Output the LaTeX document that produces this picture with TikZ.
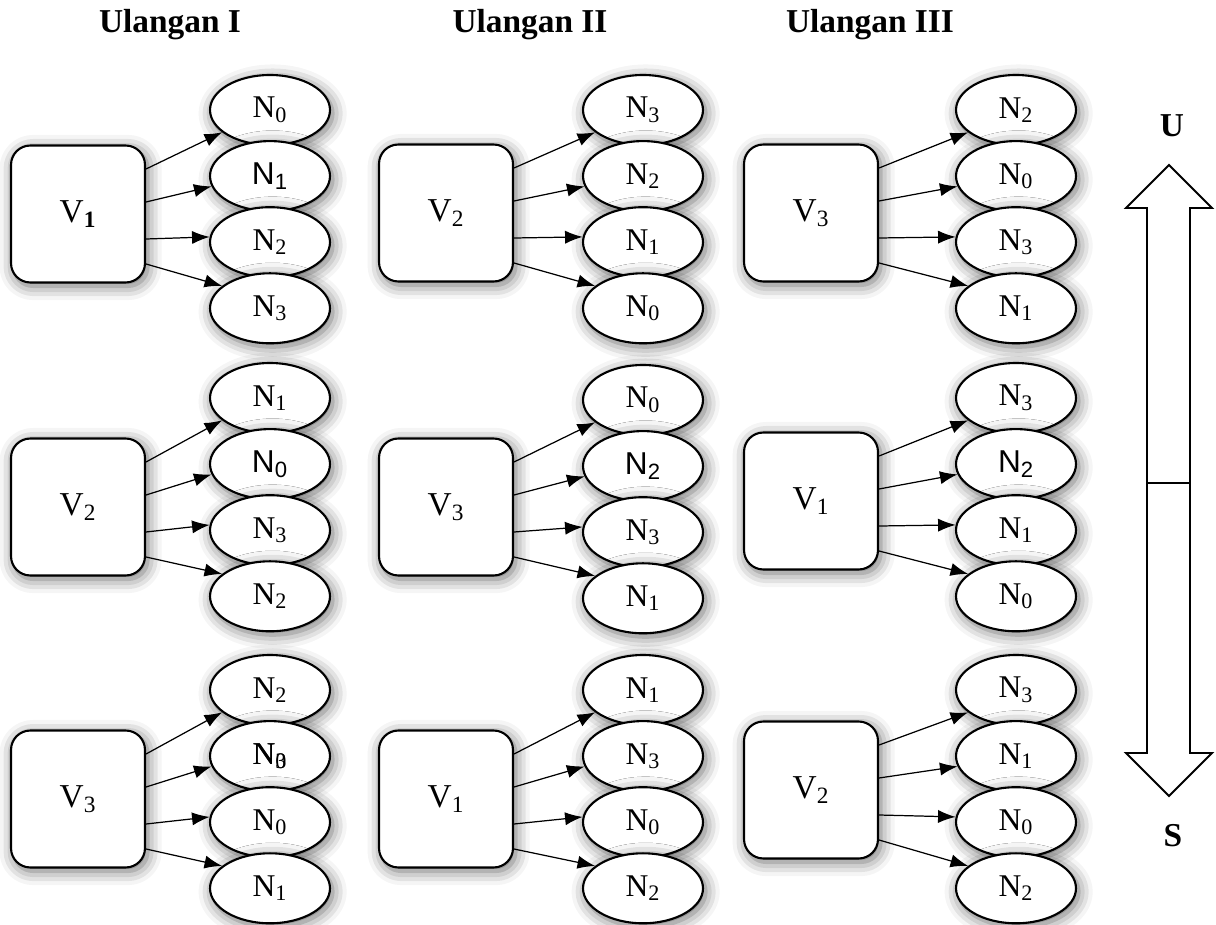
\documentclass[tikz,border=0pt]{standalone}
\usepackage{fontspec}
\setmainfont{Liberation Serif}
\newfontfamily\sansN{Liberation Sans}
\usepackage{tikz}
\usetikzlibrary{arrows.meta,positioning,calc,shapes.geometric,shadows.blur}
\newcommand{\Ns}[1]{N\textsubscript{#1}}
\newcommand{\Nsf}[1]{{\sansN N\textsubscript{#1}}}
\tikzset{
  glow/.style={blur shadow={shadow xshift=1.5pt, shadow yshift=-2pt,
               shadow blur radius=8pt, shadow opacity=60}},
  vbox/.style={rectangle, rounded corners=11pt, draw=black, line width=1.2pt, fill=white,
               minimum width=2.68cm, minimum height=2.74cm, glow,
               font=\fontsize{19}{22}\selectfont},
  nell/.style={ellipse, draw=black, line width=1.2pt, fill=white, inner sep=0pt,
               minimum width=2.4cm, minimum height=1.4cm, glow,
               font=\fontsize{18}{21}\selectfont},
  arr/.style={-{Latex[length=10pt,width=7.5pt]}, line width=0.7pt},
  judul/.style={font=\fontsize{19}{22}\selectfont\bfseries},
}
% satu kelompok: kotak V dan empat elips N
\newcommand{\grupo}[8]{%
  \node[vbox] (#1v) at #2 {#4};
  \node[nell] (#1a) at #3 {#5};
  \node[nell, below=-0.12cm of #1a] (#1b) {#6};
  \node[nell, below=-0.12cm of #1b] (#1c) {#7};
  \node[nell, below=-0.12cm of #1c] (#1d) {#8};
  \draw[arr] ($(#1v.east)+(0,-45)$) -- (#1a.205);
  \draw[arr] ($(#1v.east)+(0,-12)$) -- (#1b.190);
  \draw[arr] ($(#1v.east)+(0,25)$) -- (#1c.175);
  \draw[arr] ($(#1v.east)+(0,50)$) -- (#1d.155);
}

\begin{document}
\begin{tikzpicture}[x=0.02cm, y=-0.02cm]
  \useasboundingbox (0,0) rectangle (1216,925);

  \node[judul] (u1) at (170,25) {Ulangan I};
  \node[judul] (u2) at (530,25) {Ulangan II};
  \node[judul] (u3) at (870,25) {Ulangan III};

  % Ulangan I
  \grupo{p}{(78,214)}{(270,110)}{V{\bfseries\textsubscript{1}}}{\Ns{0}}{\Nsf{1}}{\Ns{2}}{\Ns{3}}
  \grupo{q}{(78,507)}{(270,398)}{V\textsubscript{2}}{\Ns{1}}{\Nsf{0}}{\Ns{3}}{\Ns{2}}
  \grupo{r}{(78,799)}{(270,690)}{V\textsubscript{3}}{\Ns{2}}{\rlap{\Ns{3}}\Ns{0}}{\Ns{0}}{\Ns{1}}

  % Ulangan II
  \grupo{s}{(446,213)}{(643,110)}{V\textsubscript{2}}{\Ns{3}}{\Ns{2}}{\Ns{1}}{\Ns{0}}
  \grupo{t}{(446,507)}{(643,400)}{V\textsubscript{3}}{\Ns{0}}{\Nsf{2}}{\Ns{3}}{\Ns{1}}
  \grupo{w}{(446,799)}{(643,690)}{V\textsubscript{1}}{\Ns{1}}{\Ns{3}}{\Ns{0}}{\Ns{2}}

  % Ulangan III
  \grupo{x}{(811,213)}{(1016,110)}{V\textsubscript{3}}{\Ns{2}}{\Ns{0}}{\Ns{3}}{\Ns{1}}
  \grupo{y}{(811,501)}{(1016,398)}{V\textsubscript{1}}{\Ns{3}}{\Nsf{2}}{\Ns{1}}{\Ns{0}}
  \grupo{z}{(811,790)}{(1016,690)}{V\textsubscript{2}}{\Ns{3}}{\Ns{1}}{\Ns{0}}{\Ns{2}}

  % panah arah U - S
  \node[judul] (U) at (1172,126) {U};
  \node[judul] (S) at (1173,836) {S};
  \draw[line width=1.1pt, line join=miter, fill=white]
    (1169,165) -- (1126,208) -- (1147,208) -- (1147,753) -- (1126,753) -- (1169,796)
    -- (1212,753) -- (1190,753) -- (1190,208) -- (1212,208) -- cycle;
  \draw[line width=1.1pt] (1147,483) -- (1190,483);
\end{tikzpicture}
\end{document}
